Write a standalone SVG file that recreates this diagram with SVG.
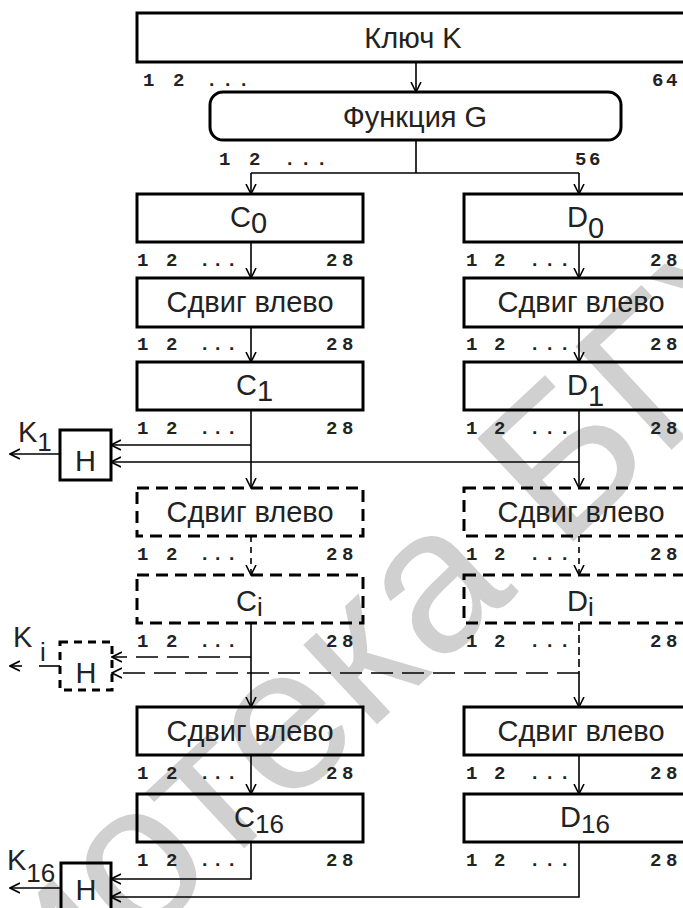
<svg xmlns="http://www.w3.org/2000/svg" width="683" height="908" viewBox="0 0 683 908">
<defs>
<style>
.box{fill:none;stroke:#000;stroke-width:3}
.dbox{fill:none;stroke:#000;stroke-width:3;stroke-dasharray:12 7}
.ln{fill:none;stroke:#000;stroke-width:1.6}
.dl{stroke-dasharray:22 9}
.t{font-family:"Liberation Sans",Arial,sans-serif;font-size:29px;fill:#222}
.s{font-family:"Liberation Sans",Arial,sans-serif;font-size:26px;fill:#222}
.n{font-family:"Liberation Mono","Courier New",monospace;font-size:19px;font-weight:bold;fill:#222}
.wm{font-family:"Liberation Sans",Arial,sans-serif;font-size:205px;fill:#d0d0d0}
</style>
<marker id="ah" viewBox="0 -6 11 12" markerWidth="11" markerHeight="12" refX="10" refY="0" orient="auto" markerUnits="userSpaceOnUse">
<path d="M0,-5 L10,0 L0,5" fill="none" stroke="#000" stroke-width="1.6"/>
</marker>
</defs>
<rect width="683" height="908" fill="#fff"/>
<text class="wm" transform="translate(-296,1352) rotate(-43)">Библиотека БГУИР</text>

<g id="key">
<rect class="box" x="137" y="13" width="560" height="49"/>
<text class="t" x="413" y="48" text-anchor="middle">Ключ K</text>
<text class="n" x="143 173 206 222 238" y="86">12...</text>
<text class="n" x="652 666" y="86">64</text>
</g>
<g id="funcG">
<rect class="box" x="210" y="92" width="411" height="48" rx="13"/>
<text class="t" x="415" y="127" text-anchor="middle">Функция G</text>
<text class="n" x="219 249 284 300 316" y="165">12...</text>
<text class="n" x="575 589" y="165">56</text>
</g>

<g id="C0">
<rect class="box" x="137" y="194" width="226" height="48"/>
<text class="t" x="230" y="227">C<tspan dy="6">0</tspan></text>
<text class="n" x="137 166 199 212 226" y="266">12...</text>
<text class="n" x="326 342" y="266">28</text>
</g>
<g id="D0">
<rect class="box" x="464" y="194" width="230" height="48"/>
<text class="t" x="567" y="227">D<tspan dy="11">0</tspan></text>
<text class="n" x="466 494 529 544 559" y="266">12...</text>
<text class="n" x="650 666" y="266">28</text>
</g>

<g id="shiftC1">
<rect class="box" x="137" y="278" width="226" height="49"/>
<text class="t" x="250" y="312" text-anchor="middle">Сдвиг влево</text>
<text class="n" x="137 166 199 212 226" y="350">12...</text>
<text class="n" x="326 342" y="350">28</text>
</g>
<g id="shiftD1">
<rect class="box" x="464" y="278" width="230" height="49"/>
<text class="t" x="581" y="312" text-anchor="middle">Сдвиг влево</text>
<text class="n" x="466 494 529 544 559" y="350">12...</text>
<text class="n" x="650 666" y="350">28</text>
</g>

<g id="C1">
<rect class="box" x="137" y="362" width="226" height="48"/>
<text class="t" x="236" y="395">C<tspan dy="6">1</tspan></text>
<text class="n" x="137 166 199 212 226" y="434">12...</text>
<text class="n" x="326 342" y="434">28</text>
</g>
<g id="D1">
<rect class="box" x="464" y="362" width="230" height="48"/>
<text class="t" x="567" y="395">D<tspan dy="11">1</tspan></text>
<text class="n" x="466 494 529 544 559" y="434">12...</text>
<text class="n" x="650 666" y="434">28</text>
</g>
<g id="H1">
<rect class="box" x="60" y="430" width="51" height="50"/>
<text class="t" x="85.5" y="471" text-anchor="middle">H</text>
<text class="t" x="18" y="442">K<tspan class="s" dy="9">1</tspan></text>
</g>

<g id="shiftCi">
<rect class="dbox" x="137" y="488" width="226" height="48"/>
<text class="t" x="250" y="522" text-anchor="middle">Сдвиг влево</text>
<text class="n" x="137 166 199 212 226" y="560">12...</text>
<text class="n" x="326 342" y="560">28</text>
</g>
<g id="shiftDi">
<rect class="dbox" x="464" y="488" width="230" height="48"/>
<text class="t" x="581" y="522" text-anchor="middle">Сдвиг влево</text>
<text class="n" x="466 494 529 544 559" y="560">12...</text>
<text class="n" x="650 666" y="560">28</text>
</g>

<g id="Ci">
<rect class="dbox" x="137" y="575" width="226" height="48"/>
<text class="t" x="236" y="611">C<tspan class="s" dy="5">i</tspan></text>
<text class="n" x="137 166 199 212 226" y="647">12...</text>
<text class="n" x="326 342" y="647">28</text>
</g>
<g id="Di">
<rect class="dbox" x="464" y="575" width="230" height="48"/>
<text class="t" x="567" y="611">D<tspan class="s" dy="5">i</tspan></text>
<text class="n" x="466 494 529 544 559" y="647">12...</text>
<text class="n" x="650 666" y="647">28</text>
</g>
<g id="Hi">
<rect class="dbox" x="60" y="642" width="52" height="48" style="stroke-dasharray:8 6"/>
<text class="t" x="86" y="683" text-anchor="middle">H</text>
<text class="t" x="13" y="647">K<tspan class="s" x="40" dy="14">i</tspan></text>
</g>

<g id="shiftC16">
<rect class="box" x="137" y="707" width="226" height="48"/>
<text class="t" x="250" y="741" text-anchor="middle">Сдвиг влево</text>
<text class="n" x="137 166 199 212 226" y="779">12...</text>
<text class="n" x="326 342" y="779">28</text>
</g>
<g id="shiftD16">
<rect class="box" x="464" y="707" width="230" height="48"/>
<text class="t" x="581" y="741" text-anchor="middle">Сдвиг влево</text>
<text class="n" x="466 494 529 544 559" y="779">12...</text>
<text class="n" x="650 666" y="779">28</text>
</g>

<g id="C16">
<rect class="box" x="137" y="794" width="226" height="48"/>
<text class="t" x="234" y="827">C<tspan class="s" dy="6">16</tspan></text>
<text class="n" x="137 166 199 212 226" y="866">12...</text>
<text class="n" x="326 342" y="866">28</text>
</g>
<g id="D16">
<rect class="box" x="464" y="794" width="230" height="48"/>
<text class="t" x="560" y="827">D<tspan class="s" dy="6">16</tspan></text>
<text class="n" x="466 494 529 544 559" y="866">12...</text>
<text class="n" x="650 666" y="866">28</text>
</g>
<g id="H16">
<rect class="box" x="61" y="863" width="50" height="60"/>
<text class="t" x="86" y="900" text-anchor="middle">H</text>
<text class="t" x="7" y="870">K<tspan class="s" dy="12">16</tspan></text>
</g>

<g id="connectors">
<path class="ln" d="M416,62 V92" marker-end="url(#ah)"/>
<path class="ln" d="M416,140 V173 M251,173 H579"/>
<path class="ln" d="M251,173 V194" marker-end="url(#ah)"/>
<path class="ln" d="M579,173 V194" marker-end="url(#ah)"/>
<path class="ln" d="M251,242 V278" marker-end="url(#ah)"/>
<path class="ln" d="M579,242 V278" marker-end="url(#ah)"/>
<path class="ln" d="M251,327 V362" marker-end="url(#ah)"/>
<path class="ln" d="M579,327 V362" marker-end="url(#ah)"/>
<path class="ln" d="M251,410 V488" marker-end="url(#ah)"/>
<path class="ln" d="M579,410 V488" marker-end="url(#ah)"/>
<path class="ln" d="M251,445 H111" marker-end="url(#ah)"/>
<path class="ln" d="M579,462 H111" marker-end="url(#ah)"/>
<path class="ln" d="M60,454 H10" marker-end="url(#ah)"/>
<path class="ln" d="M251,536 V575" marker-end="url(#ah)" style="stroke-dasharray:6 5"/>
<path class="ln" d="M579,536 V575" marker-end="url(#ah)" style="stroke-dasharray:6 5"/>
<path class="ln" d="M251,623 V707" marker-end="url(#ah)"/>
<path class="ln" d="M579,623 V675" style="stroke-dasharray:8 4"/>
<path class="ln" d="M579,675 V707" marker-end="url(#ah)"/>
<path class="ln dl" d="M251,657 H112" marker-end="url(#ah)"/>
<path class="ln dl" d="M579,673 H112" marker-end="url(#ah)"/>
<path class="ln" d="M60,666 H39"/>
<path class="ln" d="M22,666 H10" marker-end="url(#ah)"/>
<path class="ln" d="M251,755 V794" marker-end="url(#ah)"/>
<path class="ln" d="M579,755 V794" marker-end="url(#ah)"/>
<path class="ln" d="M251,842 V879 H111" marker-end="url(#ah)"/>
<path class="ln" d="M579,842 V897 H111" marker-end="url(#ah)"/>
<path class="ln" d="M61,888 H10" marker-end="url(#ah)"/>
</g>
</svg>
